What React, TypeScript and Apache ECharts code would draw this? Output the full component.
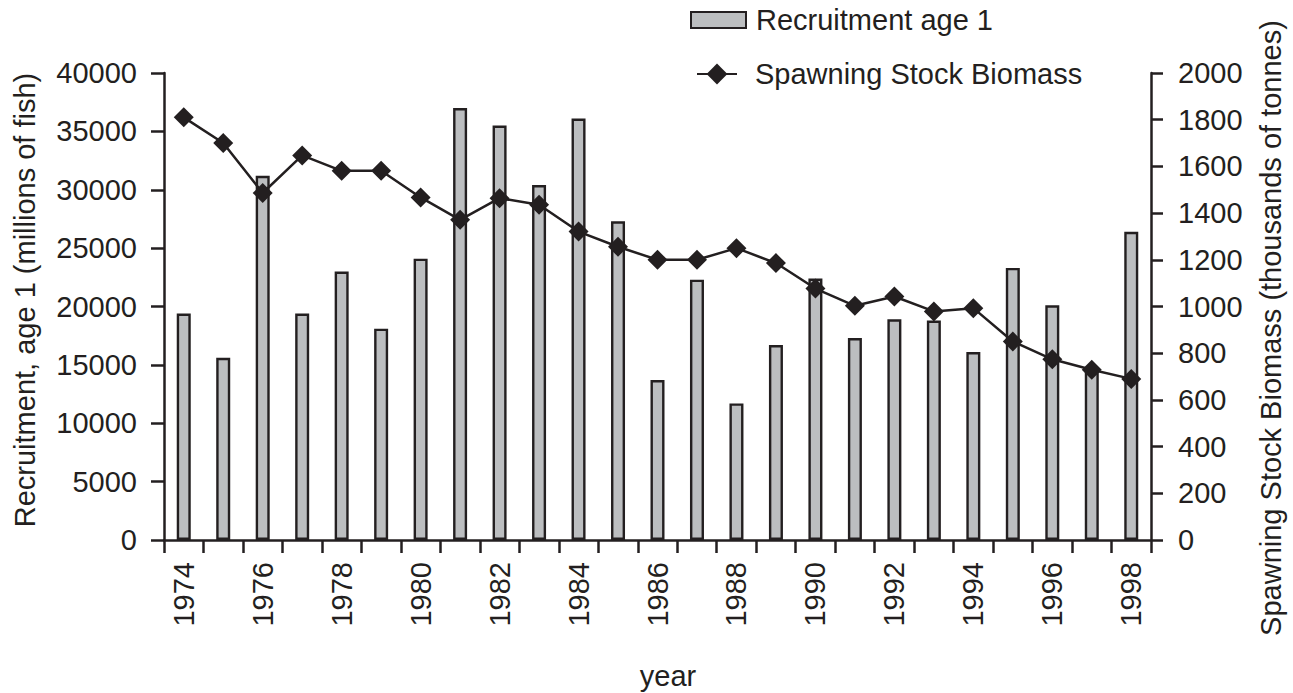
import React, { useEffect, useRef } from "react";
import * as echarts from "echarts";

const years = [
  "1974", "1975", "1976", "1977", "1978", "1979", "1980", "1981", "1982", "1983",
  "1984", "1985", "1986", "1987", "1988", "1989", "1990", "1991", "1992", "1993",
  "1994", "1995", "1996", "1997", "1998",
];

const recruitment = [
  19400, 15600, 31200, 19400, 23000, 18100, 24100, 37000, 35500, 30400,
  36100, 27300, 13700, 22300, 11700, 16700, 22400, 17300, 18900, 18800,
  16100, 23300, 20100, 14700, 26400,
];

const ssb = [
  1810, 1700, 1486, 1647, 1581, 1581, 1467, 1371, 1464, 1436,
  1321, 1256, 1200, 1200, 1250, 1186, 1077, 1003, 1043, 979,
  993, 850, 774, 729, 690,
];

const leftAxis = { min: 0, max: 40000, interval: 5000 };
const rightAxis = { min: 0, max: 2000, interval: 200 };

const barName = "Recruitment age 1";
const lineName = "Spawning Stock Biomass";
const leftTitle = "Recruitment, age 1 (millions of fish)";
const rightTitle = "Spawning Stock Biomass (thousands of tonnes)";
const xTitle = "year";

const INK = "#231f20";
const BAR = "#bcbec0";
const FONT = '"Liberation Sans", Arial, Helvetica, sans-serif';
const FS = 29;

export default function App() {
  const ref = useRef<HTMLDivElement>(null);

  useEffect(() => {
    if (!ref.current) return;
    const chart = echarts.init(ref.current, undefined, { renderer: "svg" });
    const plain = (v: number) => String(v);
    const option: any = {
      animation: false,
      backgroundColor: "#ffffff",
      textStyle: { fontFamily: FONT, color: INK },
      grid: { left: 164, right: 142, top: 73, bottom: 153, containLabel: false },
      legend: [
        {
          data: [{ name: barName, icon: "rect" }],
          orient: "vertical",
          left: 690,
          top: 5,
          padding: 0,
          itemWidth: 55,
          itemHeight: 16,
          textStyle: {
            fontSize: FS,
            fontFamily: FONT,
            color: INK,
            lineHeight: 30,
            padding: [0, 0, 0, 5],
          },
        },
        {
          data: [lineName],
          orient: "vertical",
          left: 696,
          top: 59,
          padding: 0,
          itemWidth: 40,
          itemHeight: 26,
          textStyle: {
            fontSize: FS,
            fontFamily: FONT,
            color: INK,
            lineHeight: 30,
            padding: [0, 0, 0, 13],
          },
        },
      ],
      xAxis: {
        type: "category",
        data: years,
        boundaryGap: true,
        axisLine: { lineStyle: { color: INK, width: 2.5 } },
        axisTick: {
          show: true,
          interval: 0,
          length: 13,
          alignWithLabel: false,
          lineStyle: { color: INK, width: 2.5 },
        },
        axisLabel: {
          interval: 1,
          rotate: 90,
          margin: 22,
          fontSize: FS,
          fontFamily: FONT,
          color: INK,
        },
        splitLine: { show: false },
      },
      yAxis: [
        {
          type: "value",
          min: leftAxis.min,
          max: leftAxis.max,
          interval: leftAxis.interval,
          position: "left",
          axisLine: { show: true, lineStyle: { color: INK, width: 2.5 } },
          axisTick: { show: true, length: 13, lineStyle: { color: INK, width: 2.5 } },
          axisLabel: { margin: 27, fontSize: FS, fontFamily: FONT, color: INK, formatter: plain },
          splitLine: { show: false },
        },
        {
          type: "value",
          min: rightAxis.min,
          max: rightAxis.max,
          interval: rightAxis.interval,
          position: "right",
          axisLine: { show: true, lineStyle: { color: INK, width: 2.5 } },
          axisTick: { show: true, length: 12, lineStyle: { color: INK, width: 2.5 } },
          axisLabel: { margin: 27, fontSize: FS, fontFamily: FONT, color: INK, formatter: plain },
          splitLine: { show: false },
        },
      ],
      series: [
        {
          name: barName,
          type: "bar",
          data: recruitment,
          yAxisIndex: 0,
          barWidth: 14,
          itemStyle: { color: BAR, borderColor: INK, borderWidth: 2.4 },
          z: 2,
        },
        {
          name: lineName,
          type: "line",
          data: ssb,
          yAxisIndex: 1,
          symbol: "diamond",
          symbolSize: 20,
          showSymbol: true,
          itemStyle: { color: INK },
          lineStyle: { color: INK, width: 2.5 },
          z: 3,
        },
      ],
      graphic: [
        {
          type: "text",
          x: 25,
          y: 300,
          rotation: Math.PI / 2,
          style: {
            text: leftTitle,
            fontSize: FS,
            fontFamily: FONT,
            fill: INK,
            align: "center",
            verticalAlign: "middle",
          },
        },
        {
          type: "text",
          x: 1271,
          y: 328,
          rotation: Math.PI / 2,
          style: {
            text: rightTitle,
            fontSize: FS,
            fontFamily: FONT,
            fill: INK,
            align: "center",
            verticalAlign: "middle",
          },
        },
        {
          type: "text",
          x: 668,
          y: 676,
          style: {
            text: xTitle,
            fontSize: FS,
            fontFamily: FONT,
            fill: INK,
            align: "center",
            verticalAlign: "middle",
          },
        },
      ],
    };
    chart.setOption(option);
    return () => {
      chart.dispose();
    };
  }, []);

  return (
    <div
      ref={ref}
      style={{ position: "fixed", left: 0, top: 0, width: 1293, height: 693, background: "#fff" }}
    />
  );
}
